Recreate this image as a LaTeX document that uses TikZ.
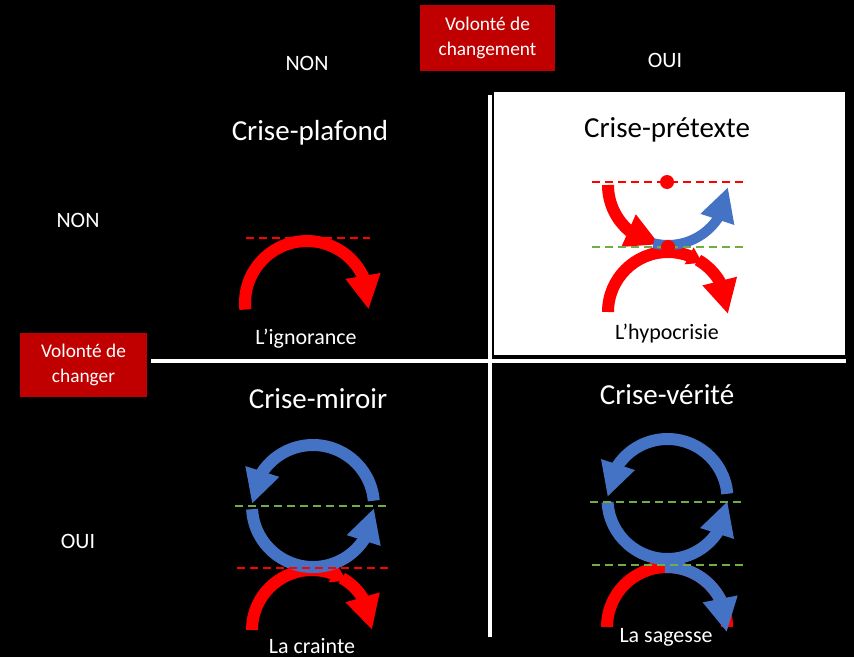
\documentclass[tikz,border=0pt]{standalone}
\usepackage{fontspec}
\setmainfont{Carlito}
\usetikzlibrary{arrows.meta,bending}
\definecolor{boxred}{HTML}{C00000}
\definecolor{loopblue}{HTML}{4472C4}
\definecolor{linegreen}{HTML}{70AD47}

\begin{document}
\begin{tikzpicture}[x=0.02cm,y=0.02cm,
    redarc/.style={draw=red,line width=0.24cm},
    bluearc/.style={draw=loopblue,line width=0.24cm},
    bigarrow/.style={-{Triangle[length=0.68cm,width=0.66cm]}},
    smallarrow/.style={-{Triangle[length=0.3cm,width=0.36cm]}},
    reddashed/.style={draw=red,line width=0.04cm,dash pattern=on 0.16cm off 0.1cm},
    greendashed/.style={draw=linegreen,line width=0.05cm,dash pattern=on 0.16cm off 0.1cm},
    labelbox/.style={fill=boxred,text=white,align=center,inner sep=0pt,
      font=\fontsize{11}{14}\selectfont},
    axislabel/.style={text=white,font=\fontsize{12.5}{15}\selectfont},
    title/.style={font=\fontsize{16.5}{20}\selectfont},
    caption/.style={font=\fontsize{12.5}{15}\selectfont}]

\def\whitebox{(494,302) rectangle (845,565)}

% background
\fill[black] (0,0) rectangle (854,657);
\useasboundingbox (0,0) rectangle (854,657);

% axes
\node[labelbox,minimum width=2.7cm,minimum height=1.32cm] (change) at (487.5,619) {Volonté de\\changement};
\node[labelbox,minimum width=2.54cm,minimum height=1.28cm] (changer) at (83.5,292) {Volonté de\\changer};
\node[axislabel] (topno) at (307,594) {NON};
\node[axislabel] (topyes) at (665,597) {OUI};
\node[axislabel] (leftno) at (78,437) {NON};
\node[axislabel] (leftyes) at (78,116) {OUI};

\draw[white,line width=0.08cm] (151,296) -- (846,296);
\draw[white,line width=0.08cm] (490,20) -- (490,562);
\fill[white] \whitebox;

% crise-plafond
\coordinate (plafond) at (307,354);
\draw[redarc,bigarrow] (plafond) ++(186:62) arc[start angle=186,end angle=-6,radius=62];
\draw[reddashed] (246,419) -- (370,419);
\node[title,text=white] (ceiling) at (310,524) {Crise-plafond};
\node[caption,text=white] (ignorance) at (306,318) {L’ignorance};

% crise-pretexte
\coordinate (pretexteup) at (668,472);
\coordinate (pretextelow) at (668,345);
\draw[redarc,smallarrow] (pretextelow) ++(180:60) arc[start angle=180,end angle=55,radius=60];
\draw[redarc,bigarrow] (pretextelow) ++(60:60) arc[start angle=60,end angle=-2,radius=60];
\draw[redarc,bigarrow] (pretexteup) ++(180:60) arc[start angle=180,end angle=262,radius=60];
\draw[bluearc,line width=0.2cm,bigarrow] (pretexteup) ++(256:60) arc[start angle=256,end angle=358,radius=60];
\draw[reddashed] (592,475) -- (745,475);
\draw[greendashed] (592,410) -- (745,410);
\fill[red] (667,475) circle (7);
\fill[red] (668,410) circle (7);
\node[title,text=black] (pretext) at (667,527) {Crise-prétexte};
\node[caption,text=black] (hypocrisy) at (667,323) {L’hypocrisie};

% crise-miroir
\coordinate (miroirup) at (313,151);
\coordinate (miroirlow) at (312,27);
\draw[redarc,smallarrow] (miroirlow) ++(180:60) arc[start angle=180,end angle=55,radius=60];
\draw[redarc,bigarrow] (miroirlow) ++(60:60) arc[start angle=60,end angle=0,radius=60];
\draw[bluearc,bigarrow] (miroirup) ++(5:61) arc[start angle=5,end angle=178,radius=61];
\draw[bluearc,bigarrow] (miroirup) ++(183:61) arc[start angle=183,end angle=358,radius=61];
\draw[reddashed] (237,89) -- (388,89);
\draw[greendashed] (235,151) -- (387,151);
\node[title,text=white] (mirror) at (318,258) {Crise-miroir};
\node[caption,text=white] (fear) at (312,11) {La crainte};

% crise-verite
\coordinate (veriteup) at (667.5,158);
\coordinate (veritelow) at (667,30);
\draw[redarc] (veritelow) ++(180:60) arc[start angle=180,end angle=0,radius=60];
\draw[bluearc,bigarrow] (veriteup) ++(5:60) arc[start angle=5,end angle=178,radius=60];
\draw[bluearc,bigarrow] (veriteup) ++(183:60) arc[start angle=183,end angle=358,radius=60];
\draw[bluearc,bigarrow] (veritelow) ++(92:60) arc[start angle=92,end angle=-5,radius=60];
\draw[greendashed] (590,155) -- (742,155);
\draw[greendashed] (592,92) -- (743,92);
\node[title,text=white] (truth) at (667,262) {Crise-vérité};
\node[caption,text=white] (wisdom) at (666,20) {La sagesse};

\end{tikzpicture}
\end{document}
